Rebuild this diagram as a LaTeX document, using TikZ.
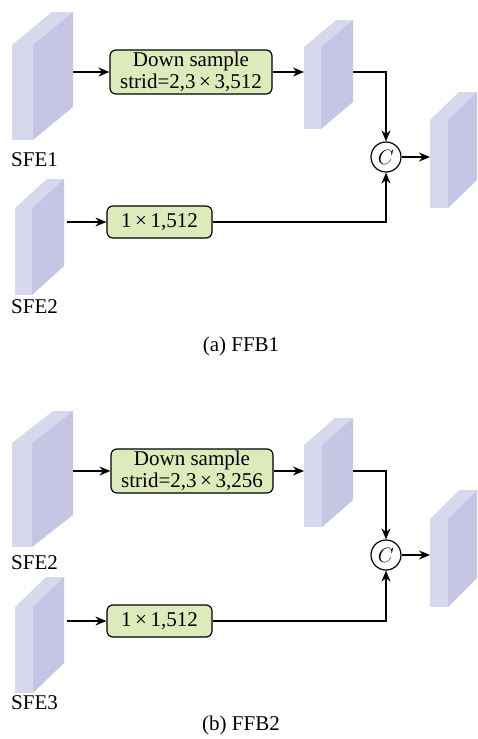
\documentclass[tikz,border=0pt]{standalone}
\usepackage{fontspec}
\setmainfont{Liberation Serif}
\usetikzlibrary{arrows.meta}

\definecolor{frontcol}{RGB}{216,216,237}
\definecolor{sidecol}{RGB}{198,197,227}
\definecolor{boxcol}{RGB}{223,234,186}

% Merkmalsblock: links, rechts, oben, unten, Tiefe x, Tiefe y
\newcommand{\featblock}[6]{%
	\fill[frontcol] (#1,#3) rectangle (#2,#4);
	\fill[frontcol] (#1,#3) -- ++(#5,-#6) -- ++({#2-#1},0) -- (#2,#3) -- cycle;
	\fill[sidecol] (#2,#3) -- ++(#5,-#6) -- ++(0,{#4-#3}) -- (#2,#4) -- cycle;
}

\tikzset{
	pfeil/.style={-{Stealth[length=11pt,width=9pt]}, line width=1.2pt},
	opbox/.style={draw, line width=1.2pt, rounded corners=6pt, fill=boxcol,
		align=center, inner sep=0pt},
	catnode/.style={draw, circle, line width=1.2pt, minimum size=30pt,
		inner sep=0pt, font=\fontsize{20}{20}\selectfont},
	label/.style={anchor=west, inner sep=0pt}
}

\begin{document}
\begin{tikzpicture}[x=1pt, y=-1pt, font=\fontsize{21}{22.5}\selectfont]
	\useasboundingbox (0,0) rectangle (477,739);

	% (a) FFB1 - Bloecke
	\featblock{12}{33}{45}{140}{40}{33}
	\featblock{304}{321}{47}{129}{32}{27}
	\featblock{430}{448}{120}{208}{29}{28}
	\featblock{15}{32}{208}{295}{32}{29}
	\coordinate (sfeA) at (73,72);
	\coordinate (midA) at (304,72);
	\coordinate (midAout) at (353,72);
	\coordinate (outA) at (430,157);
	\coordinate (sfeB) at (67,222);
	\node[label] (nameA) at (11,160) {SFE1};
	\node[label] (nameB) at (11,307) {SFE2};

	% Operationen
	\node[opbox, minimum width=162pt, minimum height=44pt] (dsA) at (191,72)
	{Down sample\\strid=2,3\,×\,3,512};
	\node[opbox, minimum width=105pt, minimum height=32pt] (convA) at (159.5,222)
	{1\,×\,1,512};
	\node[catnode] (catA) at (386,157) {$C$};

	% Verbindungen
	\draw[pfeil] (sfeA) -- (dsA.west |- sfeA);
	\draw[pfeil] (dsA.east |- midA) -- (midA);
	\draw[pfeil] (midAout) -| (catA.north);
	\draw[pfeil] (sfeB) -- (convA.west);
	\draw[pfeil] (convA.east) -| (catA.south);
	\draw[pfeil] (catA.east) -- (outA);
	\node (capA) at (241,346) {(a) FFB1};

	% (b) FFB2 - Bloecke
	\featblock{12}{32}{443}{547}{41}{32}
	\featblock{304}{322}{445}{527}{31}{27}
	\featblock{430}{448}{519}{607}{29}{29}
	\featblock{15}{33}{607}{693}{31}{30}
	\coordinate (sfeC) at (73,471);
	\coordinate (midC) at (304,471);
	\coordinate (midCout) at (353,471);
	\coordinate (outC) at (430,555);
	\coordinate (sfeD) at (67,621);
	\node[label] (nameC) at (11,563) {SFE2};
	\node[label] (nameD) at (11,703) {SFE3};

	% Operationen
	\node[opbox, minimum width=162pt, minimum height=44pt] (dsC) at (192,471)
	{Down sample\\strid=2,3\,×\,3,256};
	\node[opbox, minimum width=105pt, minimum height=32pt] (convC) at (159.5,621)
	{1\,×\,1,512};
	\node[catnode] (catC) at (386,555) {$C$};

	% Verbindungen
	\draw[pfeil] (sfeC) -- (dsC.west |- sfeC);
	\draw[pfeil] (dsC.east |- midC) -- (midC);
	\draw[pfeil] (midCout) -| (catC.north);
	\draw[pfeil] (sfeD) -- (convC.west);
	\draw[pfeil] (convC.east) -| (catC.south);
	\draw[pfeil] (catC.east) -- (outC);
	\node (capC) at (241,725) {(b) FFB2};
\end{tikzpicture}
\end{document}
